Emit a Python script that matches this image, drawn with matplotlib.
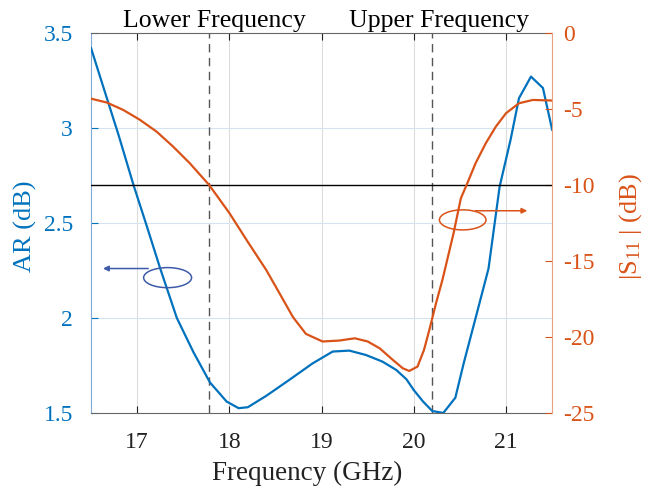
import matplotlib
matplotlib.use("Agg")
import matplotlib.pyplot as plt
from matplotlib.patches import Ellipse

# AR curve (left axis)
ar_freq = [16.5, 16.63, 16.8, 16.96, 17.1, 17.25, 17.43, 17.61, 17.79, 17.97,
           18.1, 18.2, 18.4, 18.65, 18.9, 19.12, 19.3, 19.48, 19.66, 19.81,
           19.92, 20.0, 20.1, 20.2, 20.32, 20.45, 20.54, 20.67,
           20.81, 20.93, 21.05, 21.14, 21.27, 21.4, 21.5]
ar_db = [3.42, 3.22, 2.96, 2.70, 2.49, 2.26, 2.00, 1.82, 1.66, 1.56,
         1.525, 1.53, 1.59, 1.674, 1.76, 1.823, 1.828, 1.805, 1.77, 1.726,
         1.677, 1.62, 1.56, 1.51, 1.50, 1.58, 1.76, 2.00,
         2.26, 2.69, 2.94, 3.156, 3.27, 3.21, 2.99]

# |S11| curve (right axis)
s11_freq = [16.51, 16.67, 16.85, 17.03, 17.21, 17.39, 17.57, 17.78, 18.0, 18.2,
            18.4, 18.55, 18.69, 18.83, 19.01, 19.19, 19.36, 19.5, 19.63, 19.77,
            19.88, 19.95, 20.04, 20.11, 20.17, 20.24, 20.31, 20.43, 20.51, 20.58,
            20.67, 20.78, 20.89, 21.0, 21.14, 21.29, 21.5]
s11_db = [-4.34, -4.58, -5.07, -5.72, -6.49, -7.48, -8.57, -10.0, -11.85, -13.75,
          -15.6, -17.2, -18.7, -19.8, -20.3, -20.24, -20.09, -20.3, -20.75, -21.5,
          -22.06, -22.24, -21.95, -20.86, -19.5, -17.8, -16.25, -13.2, -10.88, -9.89,
          -8.57, -7.26, -6.16, -5.28, -4.63, -4.41, -4.45]

lower_f = 17.78
upper_f = 20.2
s11_limit = -10

BLUE = "#0072BD"
ORANGE = "#D95319"

plt.rcParams["font.family"] = "Liberation Serif"
plt.rcParams["mathtext.fontset"] = "custom"
plt.rcParams["mathtext.rm"] = "Liberation Serif"
plt.rcParams["mathtext.it"] = "Liberation Serif:italic"
plt.rcParams["axes.unicode_minus"] = False

fig = plt.figure(figsize=(6.55, 4.91), dpi=100)
ax = fig.add_axes([0.139, 0.159, 0.704, 0.774])
ax2 = ax.twinx()

ax.plot(ar_freq, ar_db, color=BLUE, lw=1.6, zorder=3)
ax2.plot(s11_freq, s11_db, color=ORANGE, lw=1.6, zorder=3)
ax2.axhline(s11_limit, color="black", lw=1.0)
for f in (lower_f, upper_f):
    ax.axvline(f, color="#555555", lw=1.0, ls=(0, (6, 4)))

ax.set_xlim(16.5, 21.5)
ax.set_ylim(1.5, 3.5)
ax2.set_ylim(-25, 0)
ax.set_xticks([17, 18, 19, 20, 21])
ax.set_yticks([1.5, 2, 2.5, 3, 3.5])
ax.set_yticklabels(["1.5", "2", "2.5", "3", "3.5"])
ax2.set_yticks([0, -5, -10, -15, -20, -25])

# grid: vertical grey, horizontal light blue from left axis
for x in [17, 18, 19, 20, 21]:
    ax.axvline(x, color="#dcdcdc", lw=0.8, zorder=0)
for y in [2, 2.5, 3]:
    ax.axhline(y, color="#d5e3f1", lw=0.8, zorder=0)

ax.tick_params(axis="x", direction="in", labelsize=17, pad=14, colors="#222222",
               top=True, length=5)
ax.tick_params(axis="y", direction="in", labelsize=17, pad=13, colors=BLUE, length=5)
ax2.tick_params(axis="y", direction="in", labelsize=17, pad=8, colors=ORANGE, length=5)

ax.spines["left"].set_color("#7fa9d4")
ax.spines["bottom"].set_color("#666666")
ax.spines["top"].set_color("#666666")
ax2.spines["left"].set_visible(False)
ax2.spines["top"].set_visible(False)
ax2.spines["bottom"].set_visible(False)
ax2.spines["right"].set_color("#e8a07f")
ax.spines["right"].set_visible(False)

ax.set_xlabel("Frequency (GHz)", fontsize=19.5, color="#222222")
ax.xaxis.set_label_coords(0.469, -0.125)
ax.set_ylabel("AR (dB)", fontsize=19, color=BLUE)
ax.yaxis.set_label_coords(-0.117, 0.49)
ax2.set_ylabel("|S$_{11}$ | (dB)", fontsize=19, color=ORANGE)
ax2.yaxis.set_label_coords(1.141, 0.49)

ax.text(17.84, 1.016, "Lower Frequency", transform=ax.get_xaxis_transform(),
        ha="center", va="baseline", fontsize=18.5)
ax.text(20.27, 1.016, "Upper Frequency", transform=ax.get_xaxis_transform(),
        ha="center", va="baseline", fontsize=18.5)

# annotation ellipses and arrows (in |S11| axis coordinates)
ax2.add_patch(Ellipse((17.33, -16.1), 0.52, 1.32, fill=False, ec="#3e5ba9", lw=1.1,
                      zorder=4))
ax2.annotate("", xy=(16.63, -15.5), xytext=(17.12, -15.5),
             arrowprops=dict(arrowstyle="-|>", color="#3e5ba9", lw=1.1,
                             mutation_scale=8, shrinkA=0, shrinkB=0), zorder=4)
ax2.add_patch(Ellipse((20.53, -12.3), 0.505, 1.32, fill=False, ec=ORANGE, lw=1.1,
                      zorder=4))
ax2.annotate("", xy=(21.23, -11.7), xytext=(20.67, -11.7),
             arrowprops=dict(arrowstyle="-|>", color=ORANGE, lw=1.1,
                             mutation_scale=8, shrinkA=0, shrinkB=0), zorder=4)

fig.savefig("out.png", dpi=100)
